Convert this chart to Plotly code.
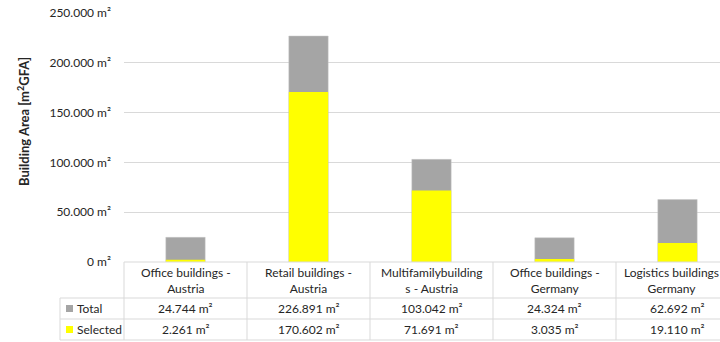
import plotly.graph_objects as go

# Building areas per portfolio segment
categories = [
    "Office buildings -<br>Austria",
    "Retail buildings -<br>Austria",
    "Multifamilybuilding<br>s - Austria",
    "Office buildings -<br>Germany",
    "Logistics buildings<br>Germany",
]
total = [24744, 226891, 103042, 24324, 62692]
selected = [2261, 170602, 71691, 3035, 19110]
y_ticks = [0, 50000, 100000, 150000, 200000, 250000]

GRAY = "#a5a5a5"
YELLOW = "#ffff00"
LINE = "#d9d9d9"
TEXT = "#262626"
FONT = "Lato"

W, H = 720, 342
L, R, T, B = 124, 0, 13, 80
plot_w = W - L - R
plot_h = H - T - B
col_w = 123  # pixel width of one category
x_range = [-0.5, -0.5 + plot_w / col_w]


def fmt(v):
    return f"{v:,}".replace(",", ".") + " m²"


def py(pix):
    """pixel row -> paper y"""
    return (H - B - pix) / plot_h


def px(pix):
    """pixel column -> paper x"""
    return (pix - L) / plot_w


def xpaper(xval):
    return (xval - x_range[0]) / (x_range[1] - x_range[0])


idx = list(range(len(categories)))

fig = go.Figure()
fig.add_bar(x=idx, y=total, marker=dict(color=GRAY, line=dict(color="#c8c8c8", width=0.5)),
            width=0.32, name="Total", showlegend=False, hoverinfo="skip")
fig.add_bar(x=idx, y=selected, marker=dict(color=YELLOW, line=dict(width=0)),
            width=0.32, name="Selected", showlegend=False, hoverinfo="skip")

shapes = []
annotations = []

# data table below the plot
row_header_bottom = 298
row_total_bottom = 319
row_sel_bottom = 340
table_left = 60

for yb in (row_header_bottom, row_total_bottom, row_sel_bottom):
    shapes.append(dict(type="line", xref="paper", yref="paper",
                       x0=px(table_left), x1=1, y0=py(yb), y1=py(yb),
                       line=dict(color=LINE, width=1)))
# top border of header row (axis baseline)
shapes.append(dict(type="line", xref="paper", yref="paper",
                   x0=0, x1=1, y0=py(H - B), y1=py(H - B),
                   line=dict(color=LINE, width=1)))
# column separators
for k in range(len(categories) + 1):
    xp = xpaper(k - 0.5)
    if xp > 1.0001:
        continue
    shapes.append(dict(type="line", xref="paper", yref="paper",
                       x0=xp, x1=xp, y0=py(H - B), y1=py(row_sel_bottom),
                       line=dict(color=LINE, width=1)))
shapes.append(dict(type="line", xref="paper", yref="paper",
                   x0=px(table_left), x1=px(table_left),
                   y0=py(row_header_bottom), y1=py(row_sel_bottom),
                   line=dict(color=LINE, width=1)))

# legend keys inside table
for color, yc in ((GRAY, 308.5), (YELLOW, 329.5)):
    shapes.append(dict(type="rect", xref="paper", yref="paper",
                       x0=px(66), x1=px(73), y0=py(yc + 3.5), y1=py(yc - 3.5),
                       fillcolor=color, line=dict(width=0)))

cell_font = dict(size=12, color=TEXT, family=FONT)

annotations.append(dict(text="Total", xref="paper", yref="paper", x=px(75), y=py(308.5),
                        xanchor="left", yanchor="middle", showarrow=False, font=cell_font))
annotations.append(dict(text="Selected", xref="paper", yref="paper", x=px(75), y=py(329.5),
                        xanchor="left", yanchor="middle", showarrow=False, font=cell_font))

for i, cat in enumerate(categories):
    # the last column runs past the right edge; nudge its header so it stays readable
    shift = -6 if i == len(categories) - 1 else 0
    annotations.append(dict(text=cat, xref="x", yref="paper", x=i, y=py(280), xshift=shift,
                            xanchor="center", yanchor="middle", showarrow=False,
                            font=cell_font))
    annotations.append(dict(text=fmt(total[i]), xref="x", yref="paper", x=i, y=py(308.5),
                            xanchor="center", yanchor="middle", showarrow=False,
                            font=cell_font))
    annotations.append(dict(text=fmt(selected[i]), xref="x", yref="paper", x=i, y=py(329.5),
                            xanchor="center", yanchor="middle", showarrow=False,
                            font=cell_font))

# y-axis title
annotations.append(dict(text="<b>Building Area [m<sup>2</sup>GFA]</b>", xref="paper", yref="paper",
                        x=0, y=py(122), xshift=-101, xanchor="center", yanchor="middle",
                        textangle=-90, showarrow=False,
                        font=dict(size=13, color=TEXT, family=FONT)))

fig.update_layout(
    width=W, height=H,
    margin=dict(l=L, r=R, t=T, b=B, autoexpand=False),
    paper_bgcolor="white", plot_bgcolor="white",
    barmode="overlay",
    font=dict(family=FONT, color=TEXT),
    shapes=shapes,
    annotations=annotations,
    xaxis=dict(range=x_range, showticklabels=False, showgrid=False, zeroline=False,
               showline=False, ticks="", fixedrange=True),
    yaxis=dict(range=[0, 250000], tickmode="array", tickvals=y_ticks,
               ticktext=[fmt(v) for v in y_ticks],
               showgrid=True, gridcolor=LINE, gridwidth=1, zeroline=False, showline=False,
               ticks="", ticklabelstandoff=12, automargin=False,
               tickfont=dict(size=12, color=TEXT, family=FONT)),
)

fig.write_html("out.html")
